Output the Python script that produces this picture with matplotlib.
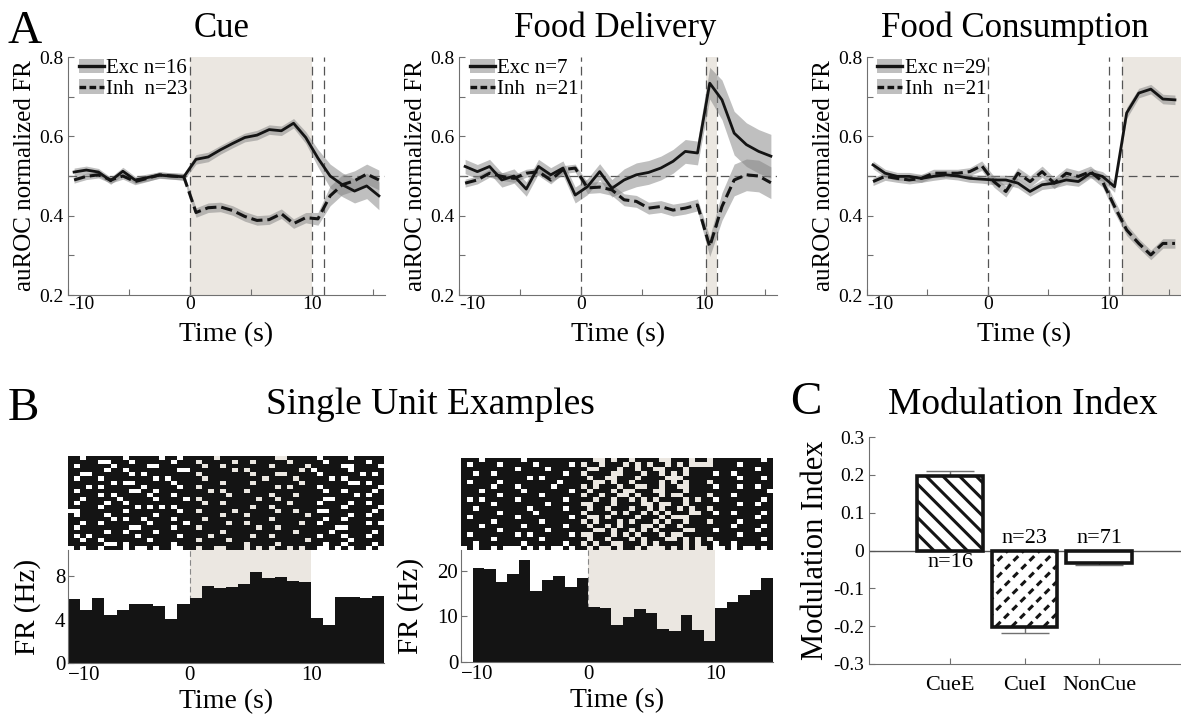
import numpy as np
import matplotlib
matplotlib.use('Agg')
import matplotlib.pyplot as plt
from matplotlib.patches import Patch
from matplotlib.lines import Line2D
from matplotlib.colors import ListedColormap

plt.rcParams['font.family'] = ['Liberation Serif', 'DejaVu Serif']
plt.rcParams['hatch.linewidth'] = 2.2
plt.rcParams['xtick.direction'] = 'in'
plt.rcParams['ytick.direction'] = 'in'

SHADE = '#ebe7e1'
INK = '#141414'
SPINE = '#707070'
BAND = '#808080'

# ---------------- A: population auROC (1 s bins, centers) ----------------
t_centers = np.arange(-9.5, 16, 1.0)

cue_exc = [0.510, 0.515, 0.510, 0.488, 0.512, 0.490, 0.496, 0.502, 0.500, 0.498,
           0.542, 0.548, 0.566, 0.582, 0.597, 0.603, 0.617, 0.614, 0.633, 0.597,
           0.545, 0.500, 0.478, 0.462, 0.475, 0.450]
cue_exc_sem = [0.010, 0.010, 0.009, 0.009, 0.010, 0.009, 0.009, 0.008, 0.008, 0.009,
               0.012, 0.012, 0.011, 0.011, 0.011, 0.012, 0.012, 0.012, 0.012, 0.015,
               0.022, 0.030, 0.030, 0.030, 0.032, 0.035]
cue_inh = [0.490, 0.499, 0.503, 0.490, 0.500, 0.486, 0.494, 0.503, 0.500, 0.498,
           0.408, 0.420, 0.422, 0.413, 0.398, 0.388, 0.390, 0.405, 0.380, 0.395,
           0.392, 0.450, 0.478, 0.488, 0.505, 0.490]
cue_inh_sem = [0.008, 0.008, 0.008, 0.008, 0.008, 0.008, 0.008, 0.008, 0.008, 0.008,
               0.012, 0.012, 0.012, 0.012, 0.012, 0.012, 0.012, 0.012, 0.012, 0.013,
               0.016, 0.025, 0.025, 0.025, 0.025, 0.025]

del_exc = [0.524, 0.511, 0.524, 0.490, 0.500, 0.467, 0.524, 0.503, 0.520, 0.452,
           0.473, 0.511, 0.469, 0.490, 0.503, 0.509, 0.520, 0.537, 0.562, 0.558,
           0.734, 0.692, 0.608, 0.579, 0.562, 0.550]
del_exc_sem = [0.018, 0.018, 0.018, 0.018, 0.018, 0.018, 0.018, 0.018, 0.018, 0.020,
               0.020, 0.020, 0.022, 0.028, 0.030, 0.030, 0.030, 0.030, 0.030, 0.030,
               0.040, 0.050, 0.055, 0.055, 0.055, 0.055]
del_inh = [0.482, 0.490, 0.507, 0.499, 0.494, 0.507, 0.511, 0.490, 0.516, 0.520,
           0.470, 0.472, 0.465, 0.440, 0.436, 0.419, 0.423, 0.414, 0.419, 0.427,
           0.322, 0.423, 0.490, 0.503, 0.500, 0.483]
del_inh_sem = [0.010, 0.010, 0.010, 0.010, 0.010, 0.010, 0.010, 0.010, 0.010, 0.010,
               0.014, 0.014, 0.014, 0.015, 0.015, 0.015, 0.015, 0.015, 0.015, 0.015,
               0.025, 0.035, 0.040, 0.040, 0.040, 0.040]

con_exc = [0.528, 0.507, 0.499, 0.499, 0.494, 0.499, 0.503, 0.500, 0.494, 0.492,
           0.490, 0.490, 0.482, 0.461, 0.478, 0.482, 0.490, 0.486, 0.507, 0.499,
           0.473, 0.659, 0.709, 0.719, 0.694, 0.692]
con_exc_sem = [0.010, 0.010, 0.010, 0.010, 0.010, 0.010, 0.010, 0.010, 0.010, 0.010,
               0.012, 0.012, 0.012, 0.012, 0.012, 0.012, 0.012, 0.012, 0.012, 0.012,
               0.014, 0.014, 0.012, 0.012, 0.012, 0.012]
con_inh = [0.486, 0.499, 0.494, 0.490, 0.494, 0.507, 0.507, 0.507, 0.511, 0.526,
           0.486, 0.461, 0.507, 0.486, 0.511, 0.482, 0.507, 0.499, 0.511, 0.486,
           0.423, 0.364, 0.330, 0.301, 0.330, 0.330]
con_inh_sem = [0.010, 0.010, 0.010, 0.010, 0.010, 0.010, 0.010, 0.010, 0.010, 0.012,
               0.014, 0.014, 0.014, 0.014, 0.014, 0.014, 0.014, 0.014, 0.014, 0.014,
               0.016, 0.014, 0.012, 0.012, 0.012, 0.012]

cue_events, cue_window = [0, 10, 11], (0, 10)
del_events, del_window = [0, 10.2, 11.1], (10.2, 11.1)
con_events, con_window = [0, 10, 11.1], (11.1, 16)

cue_labels = ['Exc n=16', 'Inh  n=23']
del_labels = ['Exc n=7', 'Inh  n=21']
con_labels = ['Exc n=29', 'Inh  n=21']

# ---------------- B: single unit examples ----------------
b1_edges = np.arange(-10, 17, 1.0)
b1_rate = [5.85, 4.92, 5.94, 4.40, 4.86, 5.42, 5.42, 5.23, 4.06, 5.42,
           5.94, 7.08, 6.86, 7.00, 7.23, 8.34, 7.85, 7.90, 7.54, 7.48,
           4.15, 3.54, 6.06, 6.12, 5.94, 6.20]
b2_edges = np.arange(-10, 17) * (10 / 11)
b2_rate = [20.6, 20.4, 17.5, 19.2, 22.3, 15.6, 17.9, 18.9, 16.4, 18.3,
           12.1, 11.8, 8.1, 9.8, 11.5, 10.7, 7.2, 6.8, 10.3, 7.0,
           4.5, 11.8, 13.1, 14.7, 15.8, 18.3]

# raster: one string per trial, '#' = spike in that half-bin
b1_raster = [
    "##.# #### #.## ###. ##.# #### .### #### ##.. #### #.## ##.# ####",
    "#### #..# ##.# #### #.## #.## ###. ##.# #### .### ##.# #### #.##",
    "#.## ###. #### #..# #### ##.# #.## #### #.## ###. #### #..# ###.",
    "#### ##.# #.## #### ##.. #### ###. #.## #### ##.# .### ##.# ####",
    "##.. #### ##.# .### #### #.## #### ##.# ##.. #### #.## #### .#.#",
    "#.## #.## #### ##.# .### ##.# #### #### .### #.## ###. #.## ####",
    "#### ###. #..# #### #.## #### #.## ##.# #### ##.# #### ##.. #.##",
    "###. #.## #### .### ##.# #.## #### #### ##.# .### #.## #### ###.",
    "#.## #### ##.. ##.# #### ###. #.## #.## #### #### ##.# #.## ##.#",
    "#### #.#. #### #.## #.## #### ##.# #### #.## #.## #### ###. #.##",
    "##.# #### .### ##.# ###. #.## #### ###. ##.# #### ##.. #### ####",
    "#.## ##.# #.## #### #### ##.# #.## #### #### .### #.## ##.# #.##",
    "#### #.## ###. #.#. #.## #### #### ##.# #.## #### #### #.## ###.",
    "..## #### #.## #### ##.# #.## ###. #### ##.# #.## #..# #### ##.#",
    "#.## ##.# #### ##.# #### #### #.## #.## #### ###. #### ##.# #.##",
    "#### ###. #.## .### #.## ##.# #### #### #.## #### ##.# #.## ####",
    "##.# #.## #### #.## ###. #### ##.# #.## #### ##.# #.## #### #.#.",
    "#.## #### ##.. #### #.## #.## #### ###. ##.# #### #### ..## ####",
    "#### ##.# #.## ##.# #### #### #.## #### #### #.## ###. #### ##.#",
    "#.#. #### ###. #### ##.# ###. #### ##.# #.## #### #.## #.## #.##",
    "##.# #.## #### #.## #### #.## ##.# #### #### ###. #### ##.# ####",
    "#### ##.. #.## #### #.## #### #### #.## ##.# #### ##.# #.## ##.#",
    ".#.# #.## #.#. .#.# #..# #.## ..## #.#. #.## .#.# #..# .#.# #.#.",
]
b2_raster = [
    "###. #### ##.# #### #### ##.. #.## .### #..# ##.# #.## #### ##.#",
    "#.## ##.# #### .### ##.# .##. ###. #.#. ##.# .#.. ..## ##.# ####",
    "#### #### #.## ##.# #### #..# ##.# #.## ..## #.## #### #### #.##",
    "##.# #.## #### #### #.## .### #..# ##.# #.#. #.## ##.# #.## ####",
    "#### #### ###. #.## #### #.## ..## #.## ##.. .### #### ##.# ##.#",
    "#.## ##.# #### #### .### ##.. #.## .### #.#. #.## #.## #### ####",
    "#### #.## #.## ###. #### .#.# ##.# #..# #.## ..## ##.# ##.# #.##",
    "###. #### ##.# #### ##.# #.## #.#. .### ..## #.## #### #### ###.",
    "#### ##.# #### #.## #### .##. ##.. #.## #.#. .### #.## #.## ####",
    "#.#. #### #.## #### #.## ##.# #.## .#.# .### #.#. ##.# #### ##.#",
    "#### #.## #### ##.# #### ..## #.## ##.. #..# #.## #### ##.# #.##",
    "##.# #### ###. #### #.## #.## .### .##. #.## .#.# #.## #### ####",
    "#### ##.# #### .### #### .### #.#. ##.# .#.# ##.. ##.# #.## ##.#",
    "#.## #### #.## #### ##.# #..# .### #.## #.#. ..## #### #### #.##",
    "#### #.## #### #.## #### .#.# ##.# .### .#.# #.## #.## ##.# ####",
    "###. #### ##.# #### #.## #.## .#.# ##.. #.## .### #### #.## ##.#",
    "#### ##.# #### ##.# #### ##.. #.## .#.# .### #..# ##.# #### #.##",
    "#.## #### #.#. #### ##.# ..## #.#. #.## #.#. .### #### ##.# ####",
    "#### #.## #### #.## #### #.## .### .#.# ##.. #.#. #.## #### ##.#",
    "##.# #### ##.# #### #.## .#.# #..# ##.# .### #.#. ##.# #.## ####",
    ".#.# #.#. ..#. #.#. .#.# #.#. .#.# #.#. ..#. #.#. .#.. #.#. .#.#",
]
cue_window_b = (0, 10)

# ---------------- C: modulation index ----------------
groups = ['CueE', 'CueI', 'NonCue']
mod_mean = [0.198, -0.201, -0.033]
mod_sem = [0.011, 0.016, 0.006]
group_n = [16, 23, 71]


def style_axes(ax, labelsize=14):
    for s in ('top', 'right'):
        ax.spines[s].set_visible(False)
    for s in ('left', 'bottom'):
        ax.spines[s].set_color(SPINE)
    ax.tick_params(color=SPINE, length=4, width=0.8, labelsize=labelsize)


def draw_auroc(ax, exc, exc_sem, inh, inh_sem, labels, window, events):
    ax.axvspan(*window, color=SHADE, lw=0, zorder=0)
    for e in events:
        ax.axvline(e, color='#555555', lw=0.9, dashes=(7, 4), zorder=1)
    ax.axhline(0.5, color='#555555', lw=0.9, dashes=(7, 4), zorder=1)
    for m, s in ((exc, exc_sem), (inh, inh_sem)):
        m, s = np.array(m), np.array(s)
        ax.fill_between(t_centers, m - s, m + s, color=BAND, alpha=0.5, lw=0, zorder=2)
    ax.plot(t_centers, exc, color=INK, lw=2.0, zorder=3)
    ax.plot(t_centers, inh, color=INK, lw=2.2, ls='--', zorder=3)
    ax.set_xlim(-10, 16)
    ax.set_ylim(0.2, 0.8)
    ax.set_xticks([-10, -5, 0, 5, 10, 15])
    xl = ax.set_xticklabels(['-10', '', '0', '', '10', ''])
    xl[0].set_ha('left')
    ax.set_yticks([0.2, 0.3, 0.4, 0.5, 0.6, 0.7, 0.8])
    ax.set_yticklabels(['0.2', '', '0.4', '', '0.6', '', '0.8'])
    style_axes(ax)
    ax.tick_params(axis='x', pad=1)
    ax.set_xlabel('Time (s)', fontsize=20, labelpad=6)
    ax.set_ylabel('auROC normalized FR', fontsize=18, labelpad=2)
    h_exc = (Patch(facecolor=BAND, alpha=0.5, lw=0), Line2D([], [], color=INK, lw=2.4))
    h_inh = (Patch(facecolor=BAND, alpha=0.5, lw=0),
             Line2D([], [], color=INK, lw=2.4, dashes=(2.0, 1.0)))
    ax.legend([h_exc, h_inh], labels, loc='upper left', bbox_to_anchor=(0.02, 1.01),
              frameon=False, fontsize=15, handlelength=1.2, handleheight=0.7,
              handletextpad=0.1, labelspacing=0.05, borderaxespad=0, borderpad=0.2)


def raster_matrix(rows):
    return np.array([[c == '#' for c in r.replace(' ', '')[:52].ljust(52, '#')]
                     for r in rows], dtype=float)


def draw_unit(ax_r, ax_h, edges, rate, raster, yticks):
    cmap = ListedColormap([(1, 1, 1, 0), INK])
    ax_r.axvspan(*cue_window_b, color=SHADE, lw=0, zorder=0)
    mat = raster_matrix(raster)
    ax_r.imshow(mat, cmap=cmap, vmin=0, vmax=1, aspect='auto', interpolation='nearest',
                extent=(edges[0], edges[-1], len(raster), 0), zorder=2)
    ax_r.set_xlim(edges[0], edges[-1])
    ax_r.set_ylim(len(raster), 0)
    ax_r.axis('off')

    ax_h.axvspan(*cue_window_b, color=SHADE, lw=0, zorder=0)
    ax_h.axvline(0, color='#888888', lw=0.8, dashes=(5, 3), zorder=1)
    ax_h.stairs(rate, edges, fill=True, color=INK, lw=0, zorder=2)
    ax_h.set_xlim(edges[0], edges[-1])
    ax_h.set_xticks([-10, 0, 10])
    ax_h.get_xticklabels()[0].set_ha('left')
    ax_h.set_yticks(yticks)
    style_axes(ax_h, labelsize=15)
    ax_h.tick_params(axis='x', pad=2)
    ax_h.tick_params(axis='y', pad=2)
    ax_h.set_xlabel('Time (s)', fontsize=20, labelpad=3)
    ax_h.set_ylabel('FR (Hz)', fontsize=21, labelpad=10)


fig = plt.figure(figsize=(11.81, 7.17), dpi=100)
W, H = 1181, 717


def px_axes(left, top, right, bottom):
    return fig.add_axes([left / W, 1 - bottom / H, (right - left) / W, (bottom - top) / H])


# panel A
axA1 = px_axes(68, 57, 385, 295)
axA2 = px_axes(459, 57, 777, 295)
axA3 = px_axes(867, 57, 1181, 295)
draw_auroc(axA1, cue_exc, cue_exc_sem, cue_inh, cue_inh_sem, cue_labels, cue_window, cue_events)
draw_auroc(axA2, del_exc, del_exc_sem, del_inh, del_inh_sem, del_labels, del_window, del_events)
draw_auroc(axA3, con_exc, con_exc_sem, con_inh, con_inh_sem, con_labels, con_window, con_events)

# panel B
axB1r = px_axes(68, 456, 384, 550)
axB1h = px_axes(68, 550, 384, 663)
axB2r = px_axes(461, 458, 773, 550)
axB2h = px_axes(461, 550, 773, 662)
draw_unit(axB1r, axB1h, b1_edges, b1_rate, b1_raster, [0, 4, 8])
axB1h.set_ylim(0, 10.4)
draw_unit(axB2r, axB2h, b2_edges, b2_rate, b2_raster, [0, 10, 20])
axB2h.set_ylim(0, 24.5)

# panel C
axC = px_axes(869, 437, 1181, 664)
xpos = np.arange(1, len(groups) + 1)
lo = [s if m < 0 else 0 for m, s in zip(mod_mean, mod_sem)]
hi = [s if m > 0 else 0 for m, s in zip(mod_mean, mod_sem)]
axC.errorbar(xpos, mod_mean, yerr=[lo, hi], fmt='none', ecolor=SPINE, elinewidth=1,
             capsize=17, capthick=1, zorder=1)
axC.axhline(0, color='#555555', lw=1, zorder=2)
bars = axC.bar(xpos, mod_mean, width=0.88, color='white', edgecolor=INK, lw=2.6, zorder=3)
bars[0].set_hatch('\\\\')
axC.set_xlim(-0.09, 4.1)
axC.set_ylim(-0.3, 0.3)

# dashed diagonal hatch for CueI, clipped to its bar
bb = axC.get_window_extent()
dxp = (4.1 + 0.09) / bb.width
dyp = 0.6 / bb.height
b = bars[1]
bx0 = b.get_x()
by0 = min(b.get_y(), b.get_y() + b.get_height())
bw_px = b.get_width() / dxp
bh_px = abs(b.get_height()) / dyp
for c in np.arange(-bh_px, bw_px + 16, 16):
    ln, = axC.plot([bx0 + c * dxp, bx0 + (c + bh_px) * dxp], [by0, by0 + bh_px * dyp],
                   color=INK, lw=2.2, dashes=(2.2, 1.6), zorder=3.5)
    ln.set_clip_path(b)

for x, m, n in zip(xpos, mod_mean, group_n):
    if m > 0:
        axC.text(x, -0.006, f'n={n}', ha='center', va='top', fontsize=16)
    else:
        axC.text(x, 0.006, f'n={n}', ha='center', va='bottom', fontsize=16)

axC.set_xticks(xpos)
axC.set_xticklabels(groups)
axC.set_yticks([-0.3, -0.2, -0.1, 0, 0.1, 0.2, 0.3])
axC.set_yticklabels(['-0.3', '-0.2', '-0.1', '0', '0.1', '0.2', '0.3'])
style_axes(axC, labelsize=14)
axC.tick_params(axis='x', labelsize=16, pad=9)
axC.set_ylabel('Modulation Index', fontsize=22, labelpad=2)

# titles and panel letters
fig.text(8 / W, 1 - 43 / H, 'A', fontsize=34)
fig.text(8 / W, 1 - 420 / H, 'B', fontsize=34)
fig.text(790 / W, 1 - 414 / H, 'C', fontsize=34)
fig.text(222 / W, 1 - 37 / H, 'Cue', fontsize=25, ha='center')
fig.text(615 / W, 1 - 37 / H, 'Food Delivery', fontsize=25, ha='center')
fig.text(1015 / W, 1 - 37 / H, 'Food Consumption', fontsize=25, ha='center')
fig.text(430 / W, 1 - 414 / H, 'Single Unit Examples', fontsize=27, ha='center')
fig.text(1023 / W, 1 - 414 / H, 'Modulation Index', fontsize=27, ha='center')

fig.savefig('out.png', dpi=100)
